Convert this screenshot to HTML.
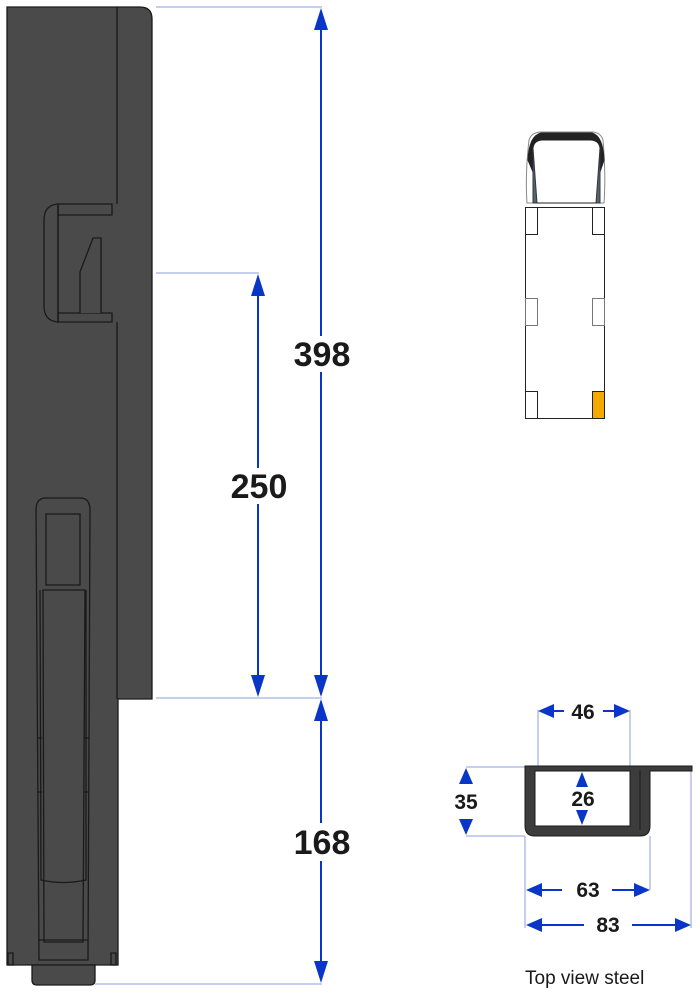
<!DOCTYPE html>
<html><head><meta charset="utf-8"><style>
html,body{margin:0;padding:0;background:#fff;}
svg{display:block;}
text{font-family:"Liberation Sans",Arial,sans-serif;font-weight:bold;fill:#1a1a1a;}
</style></head><body>
<svg width="700" height="996" viewBox="0 0 700 996" xmlns="http://www.w3.org/2000/svg">
<g stroke="#1a1a1a" stroke-width="1.3" fill="#4a4a4a">
<path d="M7,7 H140 Q152,7 152,19 V699 H118 V965 H7 Z"/>
<line x1="117" y1="7" x2="117" y2="204" fill="none"/>
<line x1="117" y1="322" x2="117" y2="699" fill="none"/>
<path d="M32,965 H95 V980 Q95,985 90,985 H37 Q32,985 32,980 Z"/>
<path d="M58,204 H112 V215 H58 Z"/>
<path d="M58,313 H112 V322 H58 Z"/>
<path d="M58,204 Q44,205 44,220 V306 Q44,321 58,322 Z"/>
<line x1="58" y1="204" x2="58" y2="322"/>
<path d="M80,313 V272 L93,238 H101 V313"/>
<path d="M46,498 H80 Q90,498 90,510 L88,960 H39 L36,510 Q36,498 46,498 Z"/>
<path d="M46,514 H80 V585 H46 Z"/>
<path d="M43,590 H85 L83,942 H44 Z" fill="none"/>
<path d="M40,590 L41,880 Q63,885 86,880 L86,590" fill="none"/>
<line x1="38" y1="940" x2="88" y2="940"/>
<line x1="37" y1="738" x2="42" y2="738"/><line x1="84" y1="738" x2="89" y2="738"/>
<line x1="37" y1="792" x2="42" y2="792"/><line x1="84" y1="792" x2="89" y2="792"/>
<path d="M8,953 H13 V965 H8 Z" fill="none"/>
<path d="M111,953 H116 V965 H111 Z" fill="none"/>
</g>
<g stroke="#b3bfee" stroke-width="1.5" fill="none">
<line x1="156" y1="7" x2="322" y2="7"/>
<line x1="156" y1="273" x2="259" y2="273"/>
<line x1="156" y1="698" x2="322" y2="698"/>
<line x1="95" y1="984" x2="322" y2="984"/>
<line x1="538" y1="710" x2="538" y2="766"/>
<line x1="630" y1="710" x2="630" y2="766"/>
<line x1="466" y1="767" x2="525" y2="767"/>
<line x1="466" y1="836" x2="525" y2="836"/>
<line x1="525" y1="836" x2="525" y2="928"/>
<line x1="650" y1="836" x2="650" y2="890"/>
<line x1="691" y1="771" x2="691" y2="928"/>
</g>
<g stroke="#1a1a1a" stroke-width="1" fill="#3c3c3c">
<path d="M525,766 H692 V771 H650 V826 Q650,836 640,836 H535 Q525,836 525,826 Z"/>
</g>
<path d="M535,771 H630 V826 H535 Z" fill="#fff" stroke="#1a1a1a"/>
<line x1="640" y1="771" x2="640" y2="830" stroke="#1a1a1a"/>
<g stroke="#0a36c8" stroke-width="2" fill="#0a36c8">
<line x1="321" y1="20" x2="321" y2="336"/><line x1="321" y1="372" x2="321" y2="686"/>
<line x1="258" y1="285" x2="258" y2="468"/><line x1="258" y1="504" x2="258" y2="686"/>
<line x1="321" y1="710" x2="321" y2="823"/><line x1="321" y1="861" x2="321" y2="972"/>
<g stroke="none">
<path d="M321,8 l-7,22 h14 Z"/><path d="M321,697 l-7,-22 h14 Z"/>
<path d="M258,274 l-7,22 h14 Z"/><path d="M258,697 l-7,-22 h14 Z"/>
<path d="M321,699 l-7,22 h14 Z"/><path d="M321,983 l-7,-22 h14 Z"/>
<path d="M538,711 l16,-7 v14 Z"/><path d="M630,711 l-16,-7 v14 Z"/>
<path d="M466,768 l-7,16 h14 Z"/><path d="M466,835 l-7,-16 h14 Z"/>
<path d="M582,772 l-6,15 h12 Z"/><path d="M582,825 l-6,-15 h12 Z"/>
<path d="M526,890 l16,-7 v14 Z"/><path d="M650,890 l-16,-7 v14 Z"/>
<path d="M526,925 l16,-7 v14 Z"/><path d="M691,925 l-16,-7 v14 Z"/>
</g>
<line x1="550" y1="711" x2="564" y2="711"/><line x1="603" y1="711" x2="618" y2="711"/>
<line x1="538" y1="890" x2="562" y2="890"/><line x1="612" y1="890" x2="638" y2="890"/>
<line x1="538" y1="925" x2="584" y2="925"/><line x1="632" y1="925" x2="680" y2="925"/>
</g>
<text x="322" y="366" font-size="34" text-anchor="middle">398</text>
<text x="259" y="498" font-size="34" text-anchor="middle">250</text>
<text x="322" y="854" font-size="34" text-anchor="middle">168</text>
<text x="583" y="719" font-size="21" text-anchor="middle">46</text>
<text x="583" y="806" font-size="21" text-anchor="middle">26</text>
<text x="466" y="809" font-size="21" text-anchor="middle">35</text>
<text x="588" y="897" font-size="21" text-anchor="middle">63</text>
<text x="608" y="932" font-size="21" text-anchor="middle">83</text>
<text x="525" y="984" font-size="19" style="font-weight:normal">Top view steel</text>
<g stroke="#222" stroke-width="1" fill="#fff">
<rect x="525.5" y="207.5" width="79" height="211"/>
<path d="M527,203 Q525,175 529,140 Q531,133 540,132 H593 Q601,133 603,140 Q606,175 604,203 Z" fill="#fff" stroke="#888"/>
<path d="M528,160 Q529,136 541,133 H592 Q603,136 604,160 L600,172 V148 Q599,140 590,140 H543 Q534,140 533,148 V172 Z" fill="#222"/>
<path d="M533,148 L537,203 H533 Z M600,148 L596,203 H600 Z" fill="#556663" stroke="#334"/>
<line x1="537" y1="203" x2="596" y2="203"/>
<rect x="525.5" y="207.5" width="12" height="27"/>
<rect x="592.5" y="207.5" width="12" height="27"/>
<rect x="525.5" y="298.5" width="12" height="27" stroke="#777"/>
<rect x="592.5" y="298.5" width="12" height="27" stroke="#777"/>
<rect x="525.5" y="391.5" width="12" height="27"/>
<rect x="592.5" y="391.5" width="12" height="27" fill="#f2a900"/>
</g>
</svg>
</body></html>
